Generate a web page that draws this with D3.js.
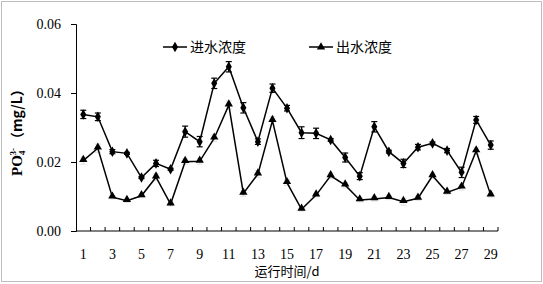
<!DOCTYPE html>
<html>
<head>
<meta charset="utf-8">
<script src="https://cdn.jsdelivr.net/npm/d3@7"></script>
<style>
  body { margin: 0; background: #fff; }
  svg { display: block; }
</style>
</head>
<body>
<div id="chart"></div>
<script>
// data
const days = d3.range(1, 30);
const inflow = [0.0338, 0.0331, 0.0230, 0.0225, 0.0155, 0.0196, 0.0179, 0.0288, 0.0259, 0.0428,
  0.0476, 0.0357, 0.0259, 0.0414, 0.0356, 0.0285, 0.0283, 0.0264, 0.0213, 0.0159,
  0.0302, 0.0230, 0.0196, 0.0243, 0.0254, 0.0233, 0.0170, 0.0322, 0.0249];
const inflowErr = [0.0012, 0.0011, 0.0006, 0.0003, 0.0003, 0.0009, 0.0003, 0.0016, 0.0015, 0.0015,
  0.0015, 0.0015, 0.0008, 0.0012, 0.0008, 0.0017, 0.0015, 0.0004, 0.0013, 0.0010,
  0.0015, 0.0004, 0.0012, 0.0008, 0.0004, 0.0006, 0.0015, 0.0010, 0.0012];
const outflow = [0.0204, 0.0240, 0.0098, 0.0088, 0.0102, 0.0156, 0.0078, 0.0201, 0.0202, 0.0269,
  0.0365, 0.0109, 0.0165, 0.0320, 0.0140, 0.0063, 0.0104, 0.0160, 0.0133, 0.0090,
  0.0093, 0.0097, 0.0085, 0.0095, 0.0160, 0.0112, 0.0127, 0.0232, 0.0104];
const outflowErr = [0.0010, 0.0012, 0.0005, 0.0005, 0.0005, 0.0010, 0.0005, 0.0008, 0.0008, 0.0010,
  0.0012, 0.0008, 0.0010, 0.0012, 0.0008, 0.0005, 0.0005, 0.0008, 0.0008, 0.0006,
  0.0006, 0.0006, 0.0010, 0.0006, 0.0008, 0.0006, 0.0008, 0.0010, 0.0006];
const yTicks = [0, 0.02, 0.04, 0.06];
const seriesNames = ["进水浓度", "出水浓度"];

const width = 543, height = 284;
const serif = "'Liberation Serif', 'Times New Roman', serif";
const cjk = "'Noto Sans CJK SC', sans-serif";

const svg = d3.select("#chart").append("svg")
  .attr("width", width)
  .attr("height", height);

// outer frame
svg.append("rect")
  .attr("x", 1.5).attr("y", 1.5)
  .attr("width", width - 3).attr("height", height - 4)
  .attr("fill", "none").attr("stroke", "#bdbdbd");

const x = d3.scaleBand().domain(days).range([76, 498]).padding(0);
const y = d3.scaleLinear().domain([0, 0.06]).range([231, 24]);
const cx = d => x(d) + x.bandwidth() / 2;

// y axis
const yAxis = svg.append("g")
  .attr("transform", "translate(76,0)")
  .call(d3.axisLeft(y).tickValues(yTicks).tickFormat(d3.format(".2f")).tickSize(5).tickPadding(10));
yAxis.select(".domain").attr("stroke", "#000");
yAxis.selectAll("text").attr("font-family", serif).attr("font-size", 14).attr("fill", "#000");

// x axis: ticks at band edges, pointing up
const xg = svg.append("g");
xg.append("line")
  .attr("x1", 76).attr("x2", 498)
  .attr("y1", y(0)).attr("y2", y(0))
  .attr("stroke", "#000");
xg.selectAll("line.tk")
  .data(days)
  .join("line")
  .attr("class", "tk")
  .attr("x1", d => x(d) + x.bandwidth()).attr("x2", d => x(d) + x.bandwidth())
  .attr("y1", y(0)).attr("y2", y(0) - 4)
  .attr("stroke", "#000");
xg.selectAll("text")
  .data(days.filter(d => d % 2 === 1))
  .join("text")
  .attr("x", cx)
  .attr("y", 259)
  .attr("text-anchor", "middle")
  .attr("font-family", serif)
  .attr("font-size", 14)
  .text(d => d);

svg.append("text")
  .attr("x", 287).attr("y", 276)
  .attr("text-anchor", "middle")
  .attr("font-family", cjk)
  .attr("font-size", 13)
  .text("运行时间/d");

// y title
const yt = svg.append("text")
  .attr("transform", "translate(22,129) rotate(-90)")
  .attr("text-anchor", "middle")
  .attr("font-family", serif)
  .attr("font-weight", "bold")
  .attr("font-size", 15);
yt.append("tspan").text("PO");
yt.append("tspan").attr("font-size", 9).attr("dy", 3).text("4");
yt.append("tspan").attr("font-size", 9).attr("dx", -5).attr("dy", -9).text("3-");
yt.append("tspan").attr("dy", 6).attr("dx", 2).attr("font-family", cjk).attr("font-size", 14).text("（mg/L）");

const line = d3.line().x((d, i) => cx(days[i])).y(d => y(d));
const diamond = d3.symbol().type(d3.symbolDiamond).size(32);
const triangle = d3.symbol().type(d3.symbolTriangle).size(30);

function errorBars(vals, errs, color) {
  const g = svg.append("g").attr("stroke", color).attr("stroke-width", 1.2);
  vals.forEach((v, i) => {
    const px = cx(days[i]);
    const top = y(v + errs[i]), bot = y(v - errs[i]);
    g.append("line").attr("x1", px).attr("x2", px).attr("y1", top).attr("y2", bot);
    g.append("line").attr("x1", px - 3).attr("x2", px + 3).attr("y1", top).attr("y2", top);
    g.append("line").attr("x1", px - 3).attr("x2", px + 3).attr("y1", bot).attr("y2", bot);
  });
}

errorBars(outflow, outflowErr, "#e4e4e4");
errorBars(inflow, inflowErr, "#000");

svg.append("path").datum(inflow)
  .attr("fill", "none").attr("stroke", "#000").attr("stroke-width", 1.5)
  .attr("d", line);
svg.append("path").datum(outflow)
  .attr("fill", "none").attr("stroke", "#000").attr("stroke-width", 1.5)
  .attr("d", line);

svg.append("g").selectAll("path")
  .data(inflow)
  .join("path")
  .attr("transform", (d, i) => `translate(${cx(days[i])},${y(d)})`)
  .attr("d", diamond)
  .attr("fill", "#000");
svg.append("g").selectAll("path")
  .data(outflow)
  .join("path")
  .attr("transform", (d, i) => `translate(${cx(days[i])},${y(d) - 1})`)
  .attr("d", triangle)
  .attr("fill", "#000");

// legend
const legend = [
  { name: seriesNames[0], x: 163, sym: diamond },
  { name: seriesNames[1], x: 309, sym: triangle }
];
legend.forEach(l => {
  svg.append("line")
    .attr("x1", l.x).attr("x2", l.x + 24)
    .attr("y1", 47).attr("y2", 47)
    .attr("stroke", "#000").attr("stroke-width", 1.5);
  svg.append("path")
    .attr("transform", `translate(${l.x + 12},47)`)
    .attr("d", l.sym)
    .attr("fill", "#000");
  svg.append("text")
    .attr("x", l.x + 27).attr("y", 52)
    .attr("font-family", cjk)
    .attr("font-size", 14)
    .text(l.name);
});
</script>
</body>
</html>
